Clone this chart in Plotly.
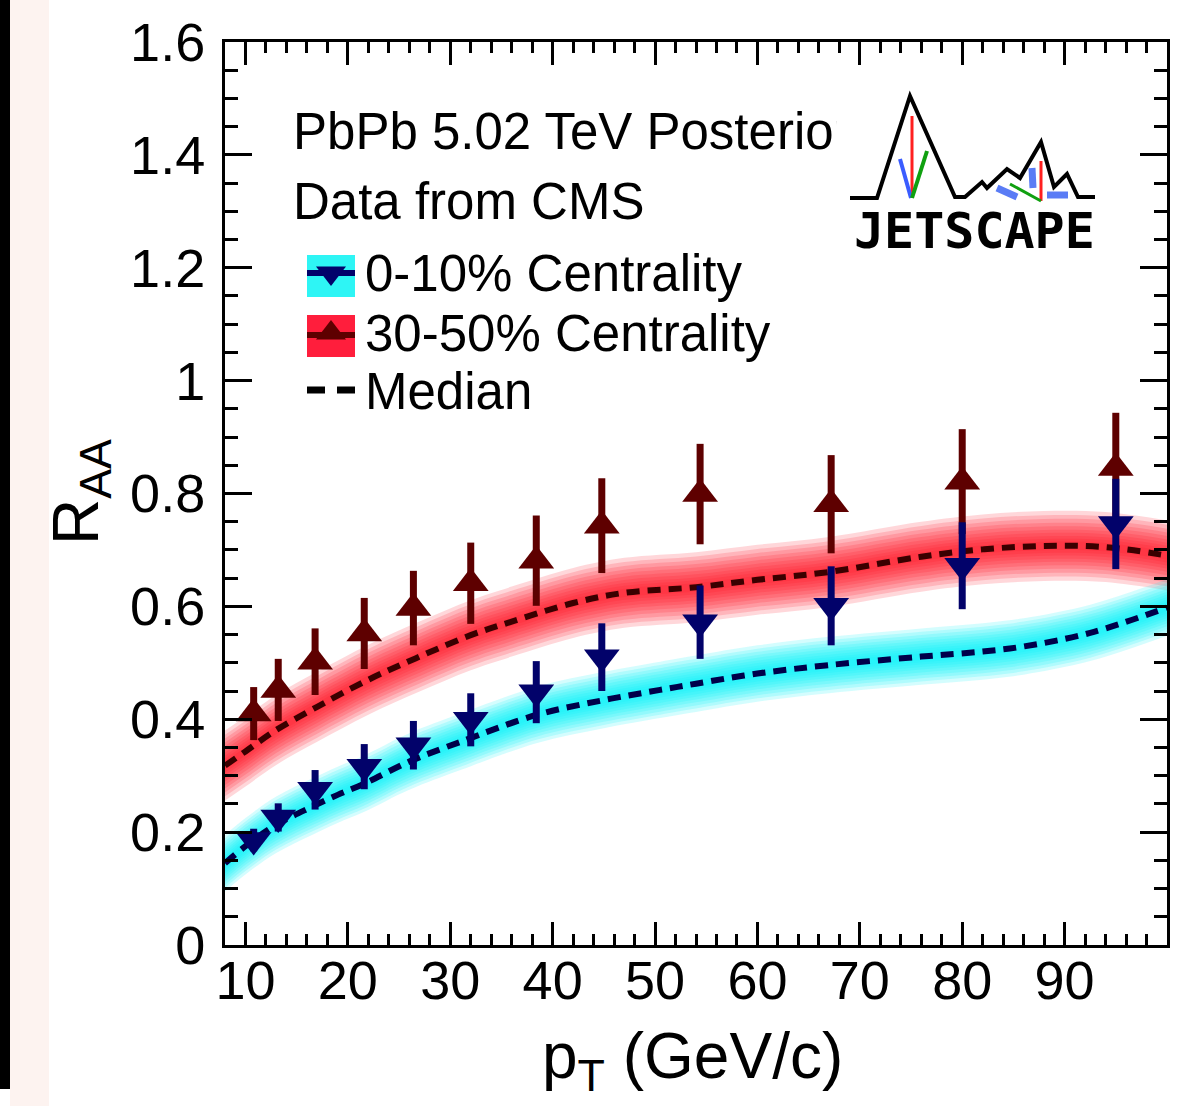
import plotly.graph_objects as go

# ---------------- data ----------------
pt = [10.8, 13.2, 16.8, 21.6, 26.4, 32.0, 38.4, 44.8, 54.4, 67.2, 80.0, 95.0]
raa_0_10 = [0.186, 0.226, 0.275, 0.316, 0.354, 0.399, 0.448, 0.510, 0.572, 0.601, 0.672, 0.746]
err_0_10 = [0.020, 0.025, 0.035, 0.040, 0.043, 0.047, 0.055, 0.060, 0.065, 0.070, 0.077, 0.080]
raa_30_50 = [0.410, 0.452, 0.502, 0.552, 0.597, 0.641, 0.681, 0.743, 0.799, 0.781, 0.821, 0.845]
err_30_50 = [0.047, 0.055, 0.059, 0.063, 0.066, 0.072, 0.080, 0.084, 0.089, 0.087, 0.093, 0.098]

med_pt_30_50 = [8, 10, 13, 17, 22, 27, 32, 36, 42, 47, 54, 60, 67, 76, 82, 88, 94, 100]
med_30_50 = [0.318, 0.343, 0.381, 0.422, 0.470, 0.511, 0.549, 0.573, 0.606, 0.624, 0.634, 0.647, 0.661, 0.688, 0.701, 0.707, 0.705, 0.690]
med_pt_0_10 = [8, 10, 13, 16.5, 19, 21.5, 26, 31, 38.5, 45, 50.5, 54, 60, 67, 76, 82, 86, 92.5, 100]
med_0_10 = [0.145, 0.175, 0.213, 0.245, 0.266, 0.285, 0.325, 0.360, 0.408, 0.434, 0.452, 0.463, 0.481, 0.496, 0.511, 0.520, 0.529, 0.553, 0.598]

band_half_30_50 = 0.062
band_half_0_10 = 0.05

x_ticks = [10, 20, 30, 40, 50, 60, 70, 80, 90]
y_ticks = [0, 0.2, 0.4, 0.6, 0.8, 1.0, 1.2, 1.4, 1.6]
y_ticklabels = ["0", "0.2", "0.4", "0.6", "0.8", "1", "1.2", "1.4", "1.6"]

# ---------------- geometry helpers ----------------
W, H = 1183, 1106
L, R, T, B = 225, 16, 42, 161
PW, PH = W - L - R, H - T - B


def px(xpix):
    return (xpix - L) / PW


def py(ypix):
    return (H - B - ypix) / PH


FONT = "Liberation Sans, Arial, Helvetica, sans-serif"
RED_MK = "#5e0000"
BLUE_MK = "#02026a"

fig = go.Figure()

# ---------------- glow bands ----------------
layers = [1.0, 0.88, 0.77, 0.66, 0.56, 0.46, 0.37, 0.28, 0.2, 0.12]


def add_band(xs, ys, half, rgb, alpha):
    for f in layers:
        lo = [v - half * f for v in ys]
        hi = [v + half * f for v in ys]
        fig.add_trace(go.Scatter(x=xs, y=lo, mode="lines", line=dict(width=0, shape="spline"),
                                 hoverinfo="skip", showlegend=False))
        fig.add_trace(go.Scatter(x=xs, y=hi, mode="lines", line=dict(width=0, shape="spline"),
                                 fill="tonexty", fillcolor=f"rgba({rgb},{alpha})",
                                 hoverinfo="skip", showlegend=False))


add_band(med_pt_30_50, med_30_50, band_half_30_50, "255,20,35", 0.17)
add_band(med_pt_0_10, med_0_10, band_half_0_10, "0,242,250", 0.17)

# ---------------- medians ----------------
fig.add_trace(go.Scatter(x=med_pt_30_50, y=med_30_50, mode="lines",
                         line=dict(color="#3a0000", width=6, dash="13px,8px", shape="spline"),
                         showlegend=False))
fig.add_trace(go.Scatter(x=med_pt_0_10, y=med_0_10, mode="lines",
                         line=dict(color="#00004a", width=6, dash="13px,8px", shape="spline"),
                         showlegend=False))

# ---------------- data points ----------------
fig.add_trace(go.Scatter(x=pt, y=raa_30_50, mode="markers",
                         marker=dict(symbol="triangle-up", size=31, color=RED_MK),
                         error_y=dict(type="data", array=err_30_50, color=RED_MK, thickness=7, width=0),
                         showlegend=False))
fig.add_trace(go.Scatter(x=pt, y=raa_0_10, mode="markers",
                         marker=dict(symbol="triangle-down", size=31, color=BLUE_MK),
                         error_y=dict(type="data", array=err_0_10, color=BLUE_MK, thickness=7, width=0),
                         showlegend=False))

# ---------------- legend markers (overlay axes in paper units) ----------------
fig.add_trace(go.Scatter(x=[px(331)], y=[py(273)], mode="markers", xaxis="x2", yaxis="y2",
                         marker=dict(symbol="triangle-down", size=26, color=BLUE_MK), showlegend=False))
fig.add_trace(go.Scatter(x=[px(331)], y=[py(333)], mode="markers", xaxis="x2", yaxis="y2",
                         marker=dict(symbol="triangle-up", size=26, color=RED_MK), showlegend=False))

shapes = []
# background strips at the far left
shapes.append(dict(type="rect", xref="paper", yref="paper", x0=px(0), x1=px(10), y0=py(1089), y1=py(0),
                   fillcolor="black", line=dict(width=0), layer="below"))
shapes.append(dict(type="rect", xref="paper", yref="paper", x0=px(10), x1=px(49), y0=py(1106), y1=py(0),
                   fillcolor="#fdf3f0", line=dict(width=0), layer="below"))
# legend boxes
shapes.append(dict(type="rect", xref="paper", yref="paper", x0=px(307), x1=px(355), y0=py(297), y1=py(255),
                   fillcolor="#2ef5f5", line=dict(width=0), layer="below"))
shapes.append(dict(type="line", xref="paper", yref="paper", x0=px(307), x1=px(355), y0=py(273), y1=py(273),
                   line=dict(color=BLUE_MK, width=6), layer="below"))
shapes.append(dict(type="rect", xref="paper", yref="paper", x0=px(307), x1=px(355), y0=py(357), y1=py(315),
                   fillcolor="#ff1e3c", line=dict(width=0), layer="below"))
shapes.append(dict(type="line", xref="paper", yref="paper", x0=px(307), x1=px(355), y0=py(335), y1=py(335),
                   line=dict(color=RED_MK, width=6), layer="below"))
for a, b in [(307, 325), (337, 355)]:
    shapes.append(dict(type="line", xref="paper", yref="paper", x0=px(a), x1=px(b), y0=py(390), y1=py(390),
                       line=dict(color="black", width=7)))

# JETSCAPE logo drawing
mount = [(850, 198), (877, 198), (910, 96), (955, 197), (965, 197), (982, 182), (987, 188), (1007, 169),
         (1020, 178), (1041, 142), (1054, 187), (1067, 174), (1078, 197), (1095, 197)]
path = "M " + " L ".join(f"{px(a):.5f},{py(b):.5f}" for a, b in mount)
shapes.append(dict(type="path", xref="paper", yref="paper", path=path, line=dict(color="black", width=4)))
segs = [((912, 116), (912, 198), "#ff2020", 3),
        ((900, 159), (911, 198), "#3a5cff", 4),
        ((927, 151), (912, 198), "#10a010", 4),
        ((1041, 161), (1041, 201), "#ff2020", 3),
        ((1010, 184), (1041, 201), "#10a010", 3),
        ((997, 188), (1017, 197), "#5a7cf5", 7),
        ((1032, 168), (1033, 188), "#5a7cf5", 7),
        ((1047, 195), (1068, 195), "#5a7cf5", 7)]
for (a, b), (c, d), col, w in segs:
    shapes.append(dict(type="line", xref="paper", yref="paper", x0=px(a), y0=py(b), x1=px(c), y1=py(d),
                       line=dict(color=col, width=w)))

annotations = []
txt_font = dict(family=FONT, size=51, color="black")
annotations.append(dict(text="PbPb 5.02 TeV Posterior", xref="paper", yref="paper", x=px(291), y=py(131),
                        xanchor="left", yanchor="middle", showarrow=False, font=txt_font,
                        width=544, align="left"))
annotations.append(dict(text="Data from CMS", xref="paper", yref="paper", x=px(291), y=py(201),
                        xanchor="left", yanchor="middle", showarrow=False, font=txt_font))
for t, yy in [("0-10% Centrality", 273), ("30-50% Centrality", 333), ("Median", 391)]:
    annotations.append(dict(text=t, xref="paper", yref="paper", x=px(363), y=py(yy),
                            xanchor="left", yanchor="middle", showarrow=False, font=txt_font))
annotations.append(dict(text="<b>JETSCAPE</b>", xref="paper", yref="paper", x=px(974), y=py(231),
                        xanchor="center", yanchor="middle", showarrow=False,
                        font=dict(family="DejaVu Sans Mono", size=50, color="black")))
# axis titles
annotations.append(dict(text="R<sub>AA</sub>", xref="paper", yref="paper", x=px(80), y=py(492),
                        xanchor="center", yanchor="middle", textangle=-90, showarrow=False,
                        font=dict(family=FONT, size=64, color="black")))
annotations.append(dict(text="p<sub>T</sub> (GeV/c)", xref="paper", yref="paper", x=px(692), y=py(1060),
                        xanchor="center", yanchor="middle", showarrow=False,
                        font=dict(family=FONT, size=64, color="black")))

axis_common = dict(showgrid=False, zeroline=False, showline=True, linecolor="black", linewidth=3,
                   mirror="ticks", ticks="inside", tickcolor="black", tickwidth=3,
                   tickfont=dict(family=FONT, size=54, color="black"))

fig.update_layout(
    width=W, height=H,
    margin=dict(l=L, r=R, t=T, b=B),
    paper_bgcolor="white", plot_bgcolor="white",
    showlegend=False,
    xaxis=dict(range=[8, 100], tickvals=x_ticks, ticklen=23, ticklabelstandoff=-14,
               minor=dict(dtick=2, tick0=0, ticklen=11, tickwidth=3, tickcolor="black", ticks="inside"),
               **axis_common),
    yaxis=dict(range=[0, 1.6], tickvals=y_ticks, ticktext=y_ticklabels, ticklen=27, ticklabelstandoff=6,
               minor=dict(dtick=0.05, tick0=0, ticklen=13, tickwidth=3, tickcolor="black", ticks="inside"),
               **axis_common),
    xaxis2=dict(range=[0, 1], overlaying="x", anchor="y2", visible=False),
    yaxis2=dict(range=[0, 1], overlaying="y", anchor="x2", visible=False),
    shapes=shapes,
    annotations=annotations,
)

fig.write_html("out.html", config={"displayModeBar": False},
               post_script="document.body.style.margin='0';document.body.style.overflow='hidden';")
